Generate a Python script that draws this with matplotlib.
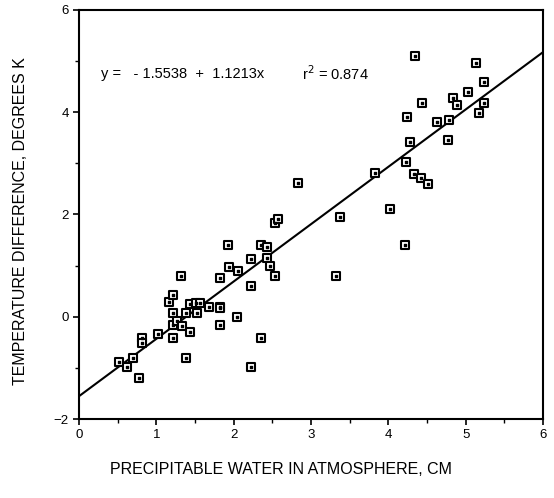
import numpy as np
import matplotlib.pyplot as plt

plt.rcParams['font.family'] = ['Liberation Sans', 'DejaVu Sans']

# precipitable water (cm) and temperature difference (K)
water = [0.52, 0.62, 0.70, 0.77, 0.81, 0.81, 1.02, 1.17, 1.22, 1.21,
         1.21, 1.27, 1.33, 1.32, 1.38, 1.39, 1.43, 1.43, 1.51, 1.53,
         1.57, 1.68, 1.82, 1.83, 1.82, 1.83, 1.93, 1.94, 2.05, 2.04,
         2.22, 2.22, 2.23, 2.36, 2.36, 2.43, 2.43, 2.47, 2.54, 2.53,
         2.57, 2.83, 3.33, 3.37, 3.83, 4.02, 4.22, 4.23, 4.24, 4.28,
         4.33, 4.35, 4.42, 4.43, 4.52, 4.63, 4.78, 4.77, 4.84, 4.89,
         5.03, 5.14, 5.17, 5.24, 5.24, 1.21]
temp_diff = [-0.88, -0.99, -0.80, -1.20, -0.42, -0.52, -0.34, 0.28, 0.42, 0.08,
             -0.17, -0.09, -0.19, 0.79, -0.80, 0.08, 0.25, -0.30, 0.27, 0.08,
             0.27, 0.19, 0.19, 0.18, -0.16, 0.76, 1.40, 0.97, 0.90, 0.00,
             0.60, -0.99, 1.12, 1.41, -0.42, 1.37, 1.15, 0.99, 0.79, 1.84,
             1.92, 2.62, 0.79, 1.95, 2.82, 2.10, 1.40, 3.03, 3.91, 3.41,
             2.80, 5.10, 2.71, 4.19, 2.60, 3.81, 3.84, 3.45, 4.27, 4.14,
             4.40, 4.97, 3.99, 4.59, 4.18, -0.42]

intercept = -1.5538
slope = 1.1213
r2 = 0.874

fig = plt.figure(figsize=(5.54, 4.98), dpi=100)
ax = fig.add_axes([0.1426, 0.1586, 0.8374, 0.8214])

# regression line
xl = np.array([0, 6])
ax.plot(xl, intercept + slope * xl, color='black', lw=1.5, zorder=2)

# square markers with a dot inside
ax.scatter(water, temp_diff, marker='s', s=34, facecolor='white',
           edgecolor='black', linewidths=1.5, zorder=3)
ax.scatter(water, temp_diff, marker='s', s=3, color='black', zorder=4)

ax.text(0.28, 4.75, 'y =   - 1.5538  +  1.1213x', fontsize=10.5, va='center')
ax.text(2.89, 4.75, 'r$^2$ = %.3f' % r2, fontsize=10.5, va='center')

ax.set_xlim(0, 6)
ax.set_ylim(-2, 6)
ax.set_xticks(range(0, 7))
ax.set_xticks(np.arange(0.5, 6, 1), minor=True)
ax.set_yticks([-2, 0, 2, 4, 6])
ax.set_yticks([-1, 1, 3, 5], minor=True)
ax.tick_params(which='major', direction='out', length=4, width=1.2, labelsize=9.5)
ax.tick_params(which='minor', direction='out', length=3, width=1.0)
for s in ax.spines.values():
    s.set_linewidth(1.5)

ax.set_xlabel('PRECIPITABLE WATER IN ATMOSPHERE, CM', fontsize=11.5)
ax.set_ylabel('TEMPERATURE DIFFERENCE, DEGREES K', fontsize=11.5)
ax.xaxis.set_label_coords(0.435, -0.105)
ax.yaxis.set_label_coords(-0.11, 0.485)

fig.savefig('out.png', dpi=100)
